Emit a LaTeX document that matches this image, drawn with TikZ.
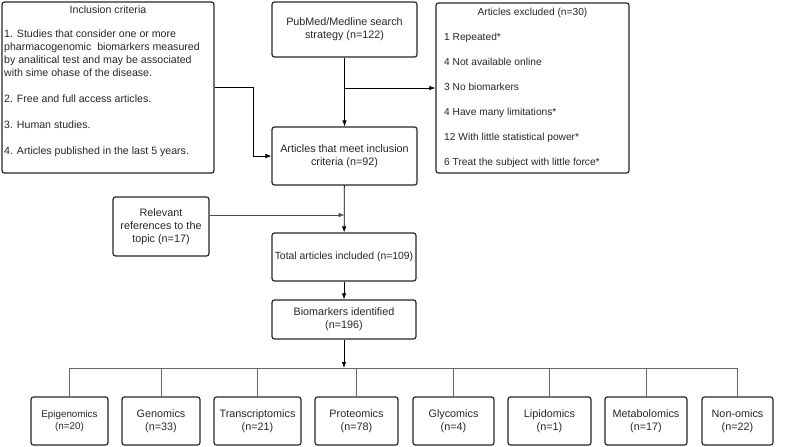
\documentclass[tikz,border=0pt]{standalone}
\usepackage{fontspec}
\setmainfont{Liberation Sans}
\usetikzlibrary{positioning,arrows.meta}

\begin{document}
\begin{tikzpicture}[x=1pt, y=-1pt,
  flowbox/.style={draw=black!85, line width=1.2pt, rounded corners=2.5pt, align=center,
                  text=black!85, font=\fontsize{10.8}{13}\selectfont, inner sep=1pt},
  omicbox/.style={flowbox, minimum height=48pt},
  link/.style={line width=0.8pt, -{Latex[length=6pt,width=4.5pt]}},
  branch/.style={line width=0.7pt, draw=black!60}
]
\useasboundingbox (0,0) rectangle (785,447);

% Inclusion criteria
\node[flowbox, minimum width=212pt, minimum height=171pt] (incl) at (108,87.5) {};
\node[text=black!85, font=\fontsize{10.6}{12.5}\selectfont] (incltitle) at (108,10) {Inclusion criteria};
\node[anchor=north west, align=left, inner sep=0pt, text=black!85,
      font=\fontsize{10.6}{12.9}\selectfont] (incllist) at (4,30)
  {1. Studies that consider one or more\\
   pharmacogenomic\ \ biomarkers measured\\
   by analitical test and may be associated\\
   with sime ohase of the disease.\\[13.2pt]
   2. Free and full access articles.\\[13.2pt]
   3. Human studies.\\[13.2pt]
   4. Articles published in the last 5 years.};

% Search and screening
\node[flowbox, minimum width=145pt, minimum height=55pt] (search) at (344.5,29.5)
  {PubMed/Medline search\\strategy (n=122)};
\node[flowbox, minimum width=145pt, minimum height=58pt] (meet) at (344.5,156)
  {Articles that meet inclusion\\criteria (n=92)};

% Articles excluded
\node[flowbox, minimum width=193pt, minimum height=170pt] (excl) at (532.5,88) {};
\node[text=black!85, font=\fontsize{10.2}{12.5}\selectfont] (excltitle) at (532.5,13) {Articles excluded (n=30)};
\node[anchor=north west, align=left, inner sep=0pt, text=black!85,
      font=\fontsize{10.2}{25}\selectfont] (excllist) at (444,33)
  {1 Repeated*\\
   4 Not available online\\
   3 No biomarkers\\
   4 Have many limitations*\\
   12 With little statistical power*\\
   6 Treat the subject with little force*};

% Additional references and totals
\node[flowbox, minimum width=96pt, minimum height=59pt] (relev) at (161,226.5)
  {Relevant\\references to the\\topic (n=17)};
\node[flowbox, minimum width=144pt, minimum height=48pt, font=\fontsize{10.4}{13}\selectfont] (total) at (344,257)
  {Total articles included (n=109)};
\node[flowbox, minimum width=144pt, minimum height=39pt] (biom) at (344,319.5)
  {Biomarkers identified\\(n=196)};

% Omics categories
\node[omicbox, minimum width=77pt, font=\fontsize{9.8}{12}\selectfont] (epi) at (69.5,421) {Epigenomics\\(n=20)};
\node[omicbox, minimum width=78pt] (gen) at (161,421) {Genomics\\(n=33)};
\node[omicbox, minimum width=87pt] (trans) at (257.5,421) {Transcriptomics\\(n=21)};
\node[omicbox, minimum width=83pt] (prot) at (356.5,421) {Proteomics\\(n=78)};
\node[omicbox, minimum width=81pt] (gly) at (453.5,421) {Glycomics\\(n=4)};
\node[omicbox, minimum width=83pt] (lip) at (549.5,421) {Lipidomics\\(n=1)};
\node[omicbox, minimum width=82pt] (met) at (646,421) {Metabolomics\\(n=17)};
\node[omicbox, minimum width=71pt] (nonom) at (737.5,421) {Non-omics\\(n=22)};

% Connectors
\coordinate (split) at (search.south |- excl.west);
\coordinate (join) at (meet.south |- 0,215);
\coordinate (bus) at (biom.south |- 0,368);

\draw[link] (search) -- (meet);
\draw[link] (split) -- (excl.west);
\draw[link, line width=0.6pt] (incl.east) -- ++(39,0) |- (meet.west);
\draw[link] (meet) -- (total);
\draw[link, line width=0.6pt, black!70] (relev.east |- join) -- (join);
\draw[link] (total) -- (biom);
\draw[branch] (epi.north |- bus) -- (nonom.north |- bus);
\foreach \omic in {epi,gen,trans,prot,gly,lip,met,nonom}
  \draw[branch] (\omic.north |- bus) -- (\omic.north);
\draw[link] (biom) -- (bus);

\end{tikzpicture}
\end{document}
